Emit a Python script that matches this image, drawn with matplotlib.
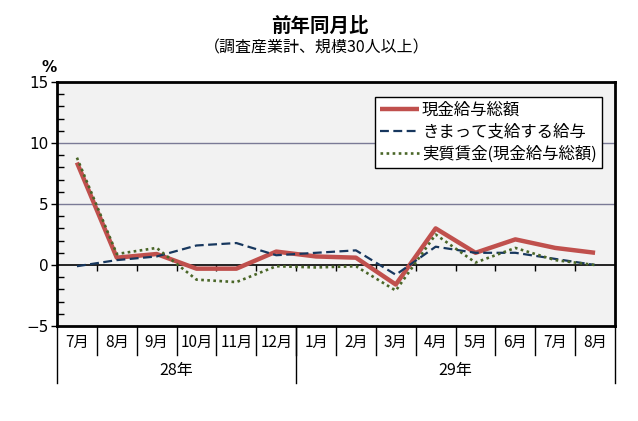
import matplotlib
matplotlib.use("Agg")
import matplotlib.pyplot as plt
import matplotlib.transforms as mtransforms
import numpy as np

plt.rcParams['font.family'] = ['Noto Sans CJK JP', 'DejaVu Sans']

months = ["7月", "8月", "9月", "10月", "11月", "12月", "1月", "2月", "3月", "4月", "5月", "6月", "7月", "8月"]
years = ["28年", "29年"]
year_counts = [6, 8]
series_names = ["現金給与総額", "きまって支給する給与", "実質賃金(現金給与総額)"]
genkin = [8.4, 0.6, 0.9, -0.3, -0.3, 1.1, 0.7, 0.6, -1.6, 3.0, 1.0, 2.1, 1.4, 1.0]
kimatte = [-0.1, 0.4, 0.7, 1.6, 1.8, 0.8, 1.0, 1.2, -0.8, 1.5, 1.0, 1.0, 0.5, 0.0]
jisshitsu = [8.8, 0.9, 1.4, -1.2, -1.4, -0.1, -0.2, -0.1, -2.1, 2.5, 0.2, 1.4, 0.4, 0.0]

fig = plt.figure(figsize=(6.38, 4.21), dpi=100)
fig.patch.set_facecolor("white")
ax = fig.add_axes([57/638, 1-326/421, 558/638, 244/421])
ax.set_facecolor("#f2f2f2")

x = np.arange(len(months))
ax.set_xlim(-0.5, len(months) - 0.5)
ax.set_ylim(-5, 15)

for g in [5, 10]:
    ax.axhline(g, color="#7a7a96", lw=1.0, zorder=1)
ax.axhline(0, color="black", lw=1.2, zorder=2)

ax.plot(x, genkin, color="#c0504d", lw=3.2, solid_capstyle="butt", zorder=3, label=series_names[0])
ax.plot(x, kimatte, color="#17375e", lw=1.6, dashes=(4, 2), zorder=4, label=series_names[1])
ax.plot(x, jisshitsu, color="#4a6628", lw=1.9, linestyle=(0, (1.0, 1.3)), dash_capstyle="butt", zorder=5, label=series_names[2])

# category boundary ticks on zero line
bounds = np.arange(0.5, len(months) - 0.5, 1.0)
ax.vlines(bounds, -0.5, 0, color="black", lw=1.0, zorder=2)

# y axis
ax.set_yticks([-5, 0, 5, 10, 15])
ax.set_yticklabels(["−5", "0", "5", "10", "15"], family="DejaVu Sans", fontsize=11)
ax.set_yticks(np.arange(-5, 16, 1), minor=True)
ax.tick_params(axis="y", which="major", direction="out", length=4, width=1, pad=2)
ax.tick_params(axis="y", which="minor", direction="in", length=5, width=1)
ax.set_xticks([])
for s in ax.spines.values():
    s.set_linewidth(2)
    s.set_color("black")

# label table below axis
trans = mtransforms.blended_transform_factory(ax.transData, ax.transAxes)
h = 244.0
month_bottom = -(355 - 326) / h
year_bottom = -(383 - 326) / h
for b in bounds:
    ax.plot([b, b], [0, month_bottom], transform=trans, color="black", lw=1, clip_on=False)
edges = [-0.5]
for c in year_counts:
    edges.append(edges[-1] + c)
for e in edges:
    ax.plot([e, e], [0, year_bottom], transform=trans, color="black", lw=1, clip_on=False)
for i, m in enumerate(months):
    ax.text(i, -(342 - 326) / h, m, transform=trans, ha="center", va="center", fontsize=11)
for j, yl in enumerate(years):
    ax.text((edges[j] + edges[j + 1]) / 2, -(370 - 326) / h, yl, transform=trans, ha="center", va="center", fontsize=11.5)

# titles
fig.text(320/638, 1-26/421, "前年同月比", ha="center", va="center", fontsize=14, fontweight="bold")
fig.text(317/638, 1-48/421, "（調査産業計、規模30人以上）", ha="center", va="center", fontsize=11.5)
fig.text(49/638, 1-68/421, "%", ha="center", va="center", fontsize=11, family="DejaVu Sans", fontweight="bold")

leg = ax.legend(loc="upper right", bbox_to_anchor=(0.976, 0.939), borderaxespad=0,
                frameon=True, fancybox=False, edgecolor="black", facecolor="white",
                fontsize=11.8, handlelength=2.4, handletextpad=0.15, labelspacing=0.3,
                borderpad=0.3)
leg.get_frame().set_linewidth(1.0)
leg.get_frame().set_alpha(1)

fig.savefig("out.png", dpi=100, facecolor="white")
